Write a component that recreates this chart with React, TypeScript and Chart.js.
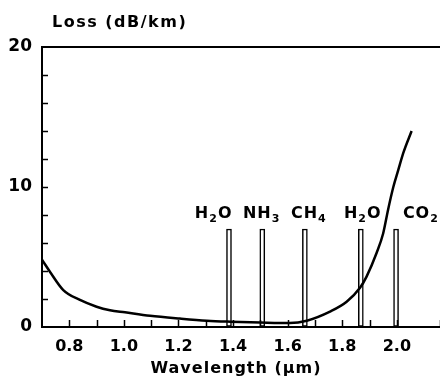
import React, { useEffect, useRef } from "react";
import { Chart, registerables } from "chart.js";

Chart.register(...registerables);

// Fibre loss curve (wavelength in µm, loss in dB/km)
const wavelength = [0.70, 0.729, 0.778, 0.839, 0.90, 0.949, 1.004, 1.096, 1.205, 1.304, 1.39, 1.5, 1.608, 1.67, 1.755, 1.816, 1.865, 1.889, 1.926, 1.95, 1.968, 1.987, 2.005, 2.023, 2.054];
const loss = [4.8, 3.95, 2.64, 1.93, 1.45, 1.2, 1.05, 0.8, 0.6, 0.45, 0.38, 0.32, 0.28, 0.45, 1.1, 1.8, 2.8, 3.6, 5.3, 6.7, 8.4, 10.0, 11.2, 12.4, 14.0];

// Absorption lines
const absorptionLambda = [1.385, 1.507, 1.663, 1.868, 1.997];
const absorptionHeight = [7, 7, 7, 7, 7];
const absorptionNames = ["H2O", "NH3", "CH4", "H2O", "CO2"];
const nameLeftLambda = [1.26, 1.436, 1.612, 1.806, 2.022];
const nameBaselineLoss = 7.8;

const xMin = 0.7;
const xMax = 2.158;
const yMin = 0;
const yMax = 20;
const yTitle = "Loss (dB/km)";
const xTitle = "Wavelength (µm)";

const FONT = "'DejaVu Sans', sans-serif";

const drawSubText = (ctx: CanvasRenderingContext2D, text: string, x: number, y: number) => {
  let cx = x;
  for (const ch of text) {
    const isDigit = /[0-9]/.test(ch);
    ctx.font = isDigit ? `bold 11px ${FONT}` : `bold 16px ${FONT}`;
    ctx.fillText(ch, cx, isDigit ? y + 4 : y);
    cx += ctx.measureText(ch).width + 1;
  }
};

const annotPlugin = {
  id: "annot",
  afterDraw(chart: any) {
    const { ctx, chartArea } = chart;
    const xs = chart.scales.x;
    const ys = chart.scales.y;
    ctx.save();
    ctx.strokeStyle = "#000";
    ctx.fillStyle = "#000";
    // top frame line
    ctx.lineWidth = 2;
    ctx.beginPath();
    ctx.moveTo(chartArea.left, chartArea.top);
    ctx.lineTo(chart.width, chartArea.top);
    ctx.stroke();
    // inner tick marks
    ctx.lineWidth = 1.5;
    for (const t of xs.ticks) {
      if (Math.abs(t.value - xMin) < 1e-6) continue;
      const px = Math.round(xs.getPixelForValue(t.value)) + 0.5;
      ctx.beginPath();
      ctx.moveTo(px, chartArea.bottom);
      ctx.lineTo(px, chartArea.bottom - 7);
      ctx.stroke();
    }
    for (const t of ys.ticks) {
      if (t.value === yMin || t.value === yMax) continue;
      const py = Math.round(ys.getPixelForValue(t.value)) + 0.5;
      ctx.beginPath();
      ctx.moveTo(chartArea.left, py);
      ctx.lineTo(chartArea.left + 6, py);
      ctx.stroke();
    }
    // gas names
    ctx.textAlign = "left";
    ctx.textBaseline = "alphabetic";
    (ctx as any).letterSpacing = "0px";
    absorptionNames.forEach((name, i) => {
      const px = xs.getPixelForValue(nameLeftLambda[i]);
      const py = ys.getPixelForValue(nameBaselineLoss);
      drawSubText(ctx, name, px, py);
    });
    // titles
    (ctx as any).letterSpacing = "1.5px";
    ctx.font = `bold 16px ${FONT}`;
    ctx.fillText(yTitle, chartArea.left + 10, chartArea.top - 20);
    (ctx as any).letterSpacing = "1px";
    ctx.textAlign = "center";
    ctx.fillText(xTitle, chartArea.left + 194, chartArea.bottom + 46);
    ctx.restore();
  },
};

export default function App() {
  const ref = useRef<HTMLCanvasElement>(null);
  useEffect(() => {
    if (!ref.current) return;
    const chart = new Chart(ref.current, {
      type: "line",
      data: {
        datasets: [
          {
            type: "line",
            data: wavelength.map((x, i) => ({ x, y: loss[i] })),
            borderColor: "#000",
            borderWidth: 2.5,
            pointRadius: 0,
            cubicInterpolationMode: "monotone",
            fill: false,
            order: 0,
          } as any,
          {
            type: "bar",
            data: absorptionLambda.map((x, i) => ({ x, y: absorptionHeight[i] })),
            backgroundColor: "#fff",
            borderColor: "#000",
            borderWidth: 1.5,
            borderSkipped: false,
            barThickness: 5,
            order: 1,
          } as any,
        ],
      },
      options: {
        responsive: false,
        animation: false,
        layout: { padding: { top: 47, right: 0, left: 0, bottom: 0 } },
        plugins: { legend: { display: false }, tooltip: { enabled: false }, title: { display: false } },
        scales: {
          x: {
            type: "linear",
            min: xMin,
            max: xMax,
            offset: false,
            grid: { display: true, drawOnChartArea: false, drawTicks: false, offset: false },
            border: { display: true, color: "#000", width: 2 },
            ticks: {
              stepSize: 0.1,
              autoSkip: false,
              maxRotation: 0,
              padding: 10,
              color: "#000",
              font: { family: FONT, size: 16, weight: "bold" },
              callback: (v: any) => {
                const n = Math.round(Number(v) * 10);
                return n % 2 === 0 && n >= 8 && n <= 20 ? (n / 10).toFixed(1) : "";
              },
            },
            afterFit: (s: any) => {
              s.height = 50;
              s.paddingLeft = 0;
              s.paddingRight = 0;
            },
          },
          y: {
            type: "linear",
            min: yMin,
            max: yMax,
            grid: { display: true, drawOnChartArea: false, drawTicks: false },
            border: { display: true, color: "#000", width: 2 },
            ticks: {
              stepSize: 2,
              autoSkip: false,
              padding: 10,
              color: "#000",
              font: { family: FONT, size: 17, weight: "bold" },
              callback: (v: any) => (Number(v) % 10 === 0 ? String(v) : ""),
            },
            afterFit: (s: any) => {
              s.width = 42;
              s.paddingTop = 0;
              s.paddingBottom = 0;
            },
          },
        },
      },
      plugins: [annotPlugin],
    } as any);
    return () => chart.destroy();
  }, []);
  return (
    <div style={{ position: "fixed", left: 0, top: 0, width: 440, height: 377, background: "#fff" }}>
      <canvas ref={ref} width={440} height={377} />
    </div>
  );
}
